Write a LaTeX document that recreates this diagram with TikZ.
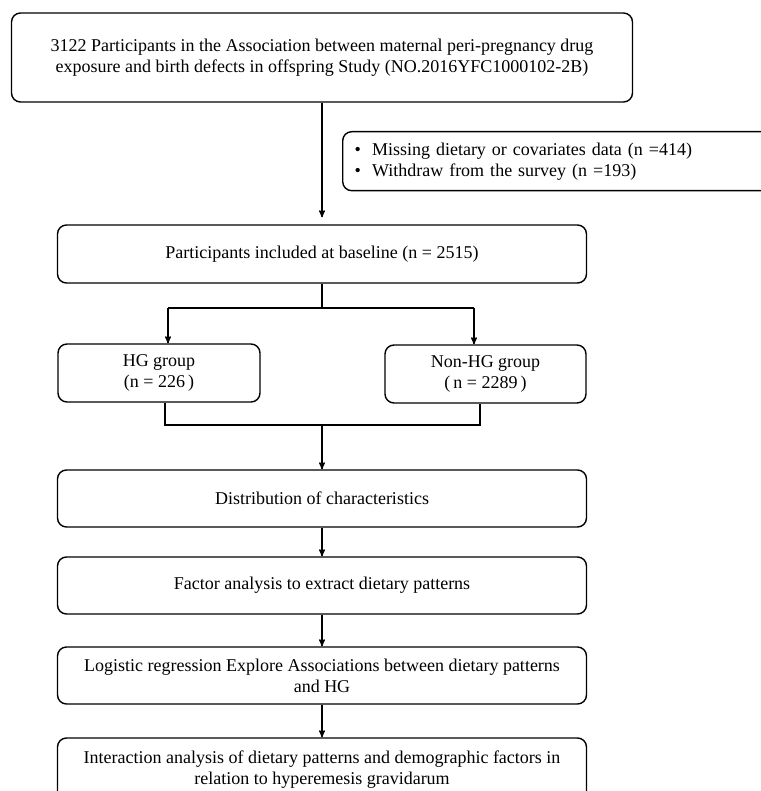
\documentclass[tikz,border=0pt]{standalone}
\usepackage{fontspec}
\setmainfont{Liberation Serif}
\usetikzlibrary{arrows}

\begin{document}
\begin{tikzpicture}[x=1pt, y=1pt, ->, >=stealth', line width=1.4pt,
		box/.style={draw, -, rounded corners=9pt, align=center, inner sep=0pt,
			font=\fontsize{18}{21}\selectfont},
		wide/.style={box, minimum width=529, minimum height=57}]
		\useasboundingbox (0,0) rectangle (760,-791);

		\node[box, minimum width=621, minimum height=89] (cohort) at (322,-57.5)
			{3122 Participants in the Association between maternal peri-pregnancy drug\\
			 exposure and birth defects in offspring Study (NO.2016YFC1000102-2B)};
		\node[box, anchor=north west, minimum height=59, text width=404, inner xsep=12, align=left]
			(excl) at (342,-131)
			{\textbullet\hspace{11pt}Missing dietary or covariates data (n =414)\\
			 \textbullet\hspace{11pt}Withdraw from the survey (n =193)};
		\node[wide, minimum height=58] (base) at (322,-254) {Participants included at baseline (n = 2515)};
		\node[box, minimum width=202, minimum height=58] (hg) at (159,-373) {HG group\\(n = 226\,)};
		\node[box, minimum width=201, minimum height=58] (nonhg) at (485.5,-374) {Non-HG group\\(\,n = 2289\,)};
		\node[wide] (dist) at (322,-498.5) {Distribution of characteristics};
		\node[wide] (factor) at (322,-585.5) {Factor analysis to extract dietary patterns};
		\node[wide] (logit) at (322,-675.5)
			{Logistic regression Explore Associations between dietary patterns\\and HG};
		\node[wide, minimum height=64] (inter) at (322,-770)
			{Interaction analysis of dietary patterns and demographic factors in\\
			 relation to hyperemesis gravidarum};

		\coordinate (split) at (322,-308);
		\coordinate (splitL) at (168,-308);
		\coordinate (splitR) at (474,-308);
		\coordinate (mergeL) at (165,-425);
		\coordinate (mergeR) at (480,-425);
		\coordinate (merge) at (322,-425);

		\path (cohort) edge[shorten >=7pt] (base);
		\draw[-] (base) -- (split);
		\draw[-] (splitL) -- (splitR);
		\draw (splitL) -- (splitL |- hg.north);
		\draw (splitR) -- (splitR |- nonhg.north);
		\draw[-] (mergeL |- hg.south) -- (mergeL) -- (mergeR) -- (mergeR |- nonhg.south);
		\draw (merge) -- (dist);
		\path (dist) edge (factor)
			(factor) edge (logit)
			(logit) edge (inter);
	\end{tikzpicture}
\end{document}
